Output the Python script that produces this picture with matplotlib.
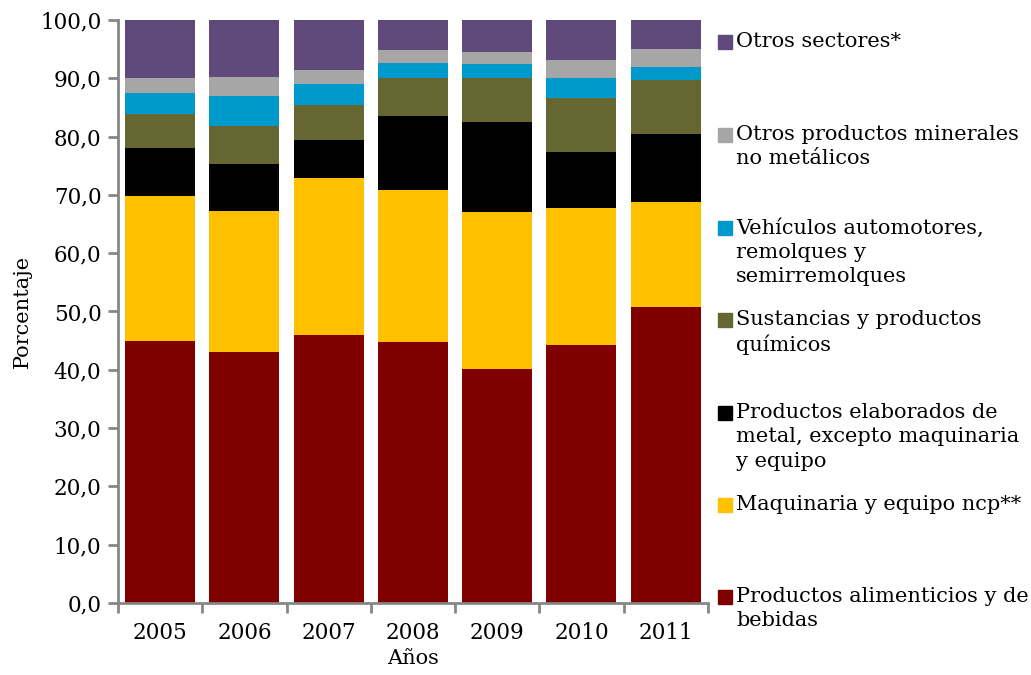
import matplotlib
matplotlib.use("Agg")
import matplotlib.pyplot as plt
from matplotlib.patches import Rectangle
import numpy as np

plt.rcParams['font.family'] = ['DejaVu Serif']

years = ["2005", "2006", "2007", "2008", "2009", "2010", "2011"]

# shares in percent, bottom to top
alimentos = [45.0, 43.0, 46.0, 44.7, 40.2, 44.3, 50.8]
maquinaria = [24.8, 24.3, 26.9, 26.1, 26.9, 23.4, 17.9]
metal = [8.2, 8.0, 6.5, 12.7, 15.4, 9.6, 11.7]
quimicos = [5.8, 6.5, 6.1, 6.6, 7.6, 9.3, 9.3]
vehiculos = [3.7, 5.1, 3.5, 2.5, 2.3, 3.4, 2.2]
minerales = [2.5, 3.4, 2.4, 2.3, 2.1, 3.1, 3.2]
otros = [10.0, 9.7, 8.6, 5.1, 5.5, 6.9, 4.9]

series = [
    ("Productos alimenticios y de\nbebidas", alimentos, "#800000"),
    ("Maquinaria y equipo ncp**", maquinaria, "#FFC000"),
    ("Productos elaborados de\nmetal, excepto maquinaria\ny equipo", metal, "#000000"),
    ("Sustancias y productos\nquímicos", quimicos, "#666633"),
    ("Vehículos automotores,\nremolques y\nsemirremolques", vehiculos, "#0099CC"),
    ("Otros productos minerales\nno metálicos", minerales, "#A6A6A6"),
    ("Otros sectores*", otros, "#604A7B"),
]

fig = plt.figure(figsize=(10.31, 6.75), dpi=100)
ax = fig.add_axes([0.1145, 0.1067, 0.572, 0.8637])

x = np.arange(len(years))
bottom = np.zeros(len(years))
for label, vals, color in series:
    ax.bar(x, vals, bottom=bottom, width=0.83, color=color, label=label)
    bottom += np.array(vals)

gray = "#868686"
ax.set_xlim(-0.5, 6.5)
ax.set_ylim(0, 100)
ax.set_yticks(np.arange(0, 101, 10))
ax.set_yticklabels([f"{v:.1f}".replace(".", ",") for v in np.arange(0, 101, 10)])
ax.set_xticks(x)
ax.set_xticklabels(years)
ax.set_xticks(np.arange(-0.5, 7, 1), minor=True)
ax.tick_params(axis='x', which='major', length=0, labelsize=15.5, pad=14)
ax.tick_params(axis='x', which='minor', length=7, width=2, color=gray)
ax.tick_params(axis='y', length=7, width=2, color=gray, labelsize=15.5, pad=5)
for s in ["top", "right"]:
    ax.spines[s].set_visible(False)
for s in ["left", "bottom"]:
    ax.spines[s].set_color(gray)
    ax.spines[s].set_linewidth(2)

ax.set_ylabel("Porcentaje", fontsize=15, labelpad=6)
ax.set_xlabel("Años", fontsize=15, labelpad=3)

# legend entries spaced like the original, top to bottom
W, H = 1031, 675
ys = [42, 135, 228, 320, 413, 505, 597]
for (label, vals, color), yp in zip(series[::-1], ys):
    fig.patches.append(Rectangle((718 / W, 1 - (yp + 7) / H), 14 / W, 14 / H,
                                 transform=fig.transFigure, color=color))
    fig.text(736 / W, 1 - (yp - 10) / H, label, fontsize=15, va="top",
             ha="left", linespacing=1.36)

fig.savefig("out.png", dpi=100)
